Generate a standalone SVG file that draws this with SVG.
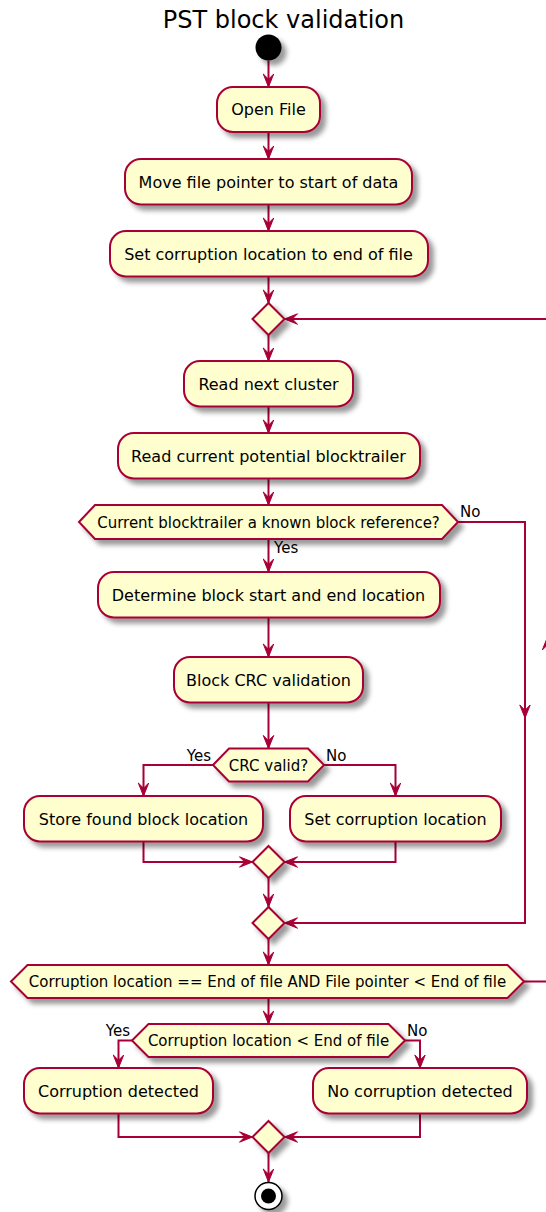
<svg xmlns="http://www.w3.org/2000/svg" width="546" height="1212" viewBox="0 0 546 1212">
<defs>
<filter id="sh" x="-0.5" y="-0.5" width="2" height="2">
<feGaussianBlur stdDeviation="2.6" result="b"/>
<feColorMatrix in="b" type="matrix" values="0 0 0 0 0 0 0 0 0 0 0 0 0 0 0 0 0 0 .4 0" result="b2"/>
<feOffset in="b2" dx="5.2" dy="5.2" result="b3"/>
<feBlend in="SourceGraphic" in2="b3" mode="normal"/>
</filter>
<marker id="ah" markerUnits="userSpaceOnUse" viewBox="-14 -6 15 12" markerWidth="15" markerHeight="12" refX="0" refY="0" orient="auto" overflow="visible">
<path d="M0,0 L-13,-5.2 L-7.8,0 L-13,5.2 Z" fill="#A80036" stroke="#A80036" stroke-width="1" stroke-linejoin="miter"/>
</marker>
<style>
.box{fill:#FEFECE;stroke:#A80036;stroke-width:2;filter:url(#sh)}
.ln{fill:none;stroke:#A80036;stroke-width:2;marker-end:url(#ah)}
.pl{fill:none;stroke:#A80036;stroke-width:2}
.t{font-family:"DejaVu Sans","Liberation Sans",sans-serif;font-size:16px;fill:#000;text-anchor:middle}
.d{font-family:"DejaVu Sans","Liberation Sans",sans-serif;font-size:15px;fill:#000;text-anchor:middle}
.lb{font-family:"DejaVu Sans","Liberation Sans",sans-serif;font-size:15px;fill:#000}
</style>
</defs>
<rect width="546" height="1212" fill="#FFFFFF"/>
<text x="283.5" y="28" style="font-family:'DejaVu Sans','Liberation Sans',sans-serif;font-size:24px;fill:#000" text-anchor="middle">PST block validation</text>

<g id="connectors">
<path class="ln" d="M268.5,60.5 V87"/>
<path class="ln" d="M268.5,132 V159"/>
<path class="ln" d="M268.5,204.5 V231"/>
<path class="ln" d="M268.5,276.5 V303"/>
<path class="ln" d="M268.5,335 V361"/>
<path class="ln" d="M268.5,406.5 V433"/>
<path class="ln" d="M268.5,478.5 V505"/>
<path class="ln" d="M268.5,539 V572"/>
<path class="ln" d="M268.5,617.5 V657"/>
<path class="ln" d="M268.5,702.5 V748.5"/>
<path class="ln" d="M213,765 H143.5 V796"/>
<path class="ln" d="M324,765 H395.5 V796"/>
<path class="ln" d="M143.5,841.5 V862 H252.5"/>
<path class="ln" d="M395.5,841.5 V862 H284.5"/>
<path class="ln" d="M268.5,878 V907"/>
<path class="ln" d="M458,522 H525 V718"/>
<path class="ln" d="M525,718 V923 H284.5"/>
<path class="ln" d="M268.5,939 V965"/>
<path class="ln" d="M524,981.5 H547.5 V637"/>
<path class="ln" d="M547.5,637 V319 H284.5"/>
<path class="ln" d="M268.5,998 V1024"/>
<path class="ln" d="M132,1040.5 H118.5 V1068"/>
<path class="ln" d="M405,1040.5 H420 V1068"/>
<path class="ln" d="M118.5,1113.5 V1137 H252.5"/>
<path class="ln" d="M420,1113.5 V1137 H284.5"/>
<path class="ln" d="M268.5,1153 V1182"/>
</g>

<g id="start"><circle cx="268.5" cy="47.5" r="13" fill="#000" filter="url(#sh)"/></g>

<g id="open-file"><rect class="box" x="217" y="87" width="103" height="45" rx="16"/><text class="t" x="268.5" y="115">Open File</text></g>
<g id="move-pointer"><rect class="box" x="125" y="159" width="287" height="45.5" rx="16"/><text class="t" x="268.5" y="187.5">Move file pointer to start of data</text></g>
<g id="set-eof"><rect class="box" x="110" y="231" width="318" height="45.5" rx="16"/><text class="t" x="268.5" y="259.5">Set corruption location to end of file</text></g>
<g id="loop-merge"><polygon class="box" points="252.5,319 268.5,303 284.5,319 268.5,335"/></g>
<g id="read-cluster"><rect class="box" x="184" y="361" width="169" height="45.5" rx="16"/><text class="t" x="268.5" y="389.5">Read next cluster</text></g>
<g id="read-trailer"><rect class="box" x="118" y="433" width="302" height="45.5" rx="16"/><text class="t" x="268.5" y="461.5">Read current potential blocktrailer</text></g>
<g id="known-ref"><polygon class="box" points="79,522 95,505 442,505 458,522 442,539 95,539"/><text class="d" x="268.5" y="527.5">Current blocktrailer a known block reference?</text>
<text class="lb" x="460" y="517">No</text><text class="lb" x="274" y="553">Yes</text></g>
<g id="determine"><rect class="box" x="98" y="572" width="342" height="45.5" rx="16"/><text class="t" x="268.5" y="600.5">Determine block start and end location</text></g>
<g id="crc-validation"><rect class="box" x="174" y="657" width="189" height="45.5" rx="16"/><text class="t" x="268.5" y="685.5">Block CRC validation</text></g>
<g id="crc-valid"><polygon class="box" points="213,765 229,748.5 308,748.5 324,765 308,781.5 229,781.5"/><text class="d" x="268.5" y="770.5">CRC valid?</text>
<text class="lb" x="211" y="761" text-anchor="end">Yes</text><text class="lb" x="326" y="761">No</text></g>
<g id="store-found"><rect class="box" x="24" y="796" width="239" height="45.5" rx="16"/><text class="t" x="143.5" y="824.5">Store found block location</text></g>
<g id="set-corruption"><rect class="box" x="290" y="796" width="211" height="45.5" rx="16"/><text class="t" x="395.5" y="824.5">Set corruption location</text></g>
<g id="crc-merge"><polygon class="box" points="252.5,862 268.5,846 284.5,862 268.5,878"/></g>
<g id="ref-merge"><polygon class="box" points="252.5,923 268.5,907 284.5,923 268.5,939"/></g>
<g id="while-cond"><polygon class="box" points="11,981.5 27.5,965 507.5,965 524,981.5 507.5,998 27.5,998"/><text class="d" x="267.5" y="987">Corruption location == End of file AND File pointer &lt; End of file</text></g>
<g id="eof-check"><polygon class="box" points="132,1040.5 148.5,1024 388.5,1024 405,1040.5 388.5,1057 148.5,1057"/><text class="d" x="268.5" y="1046">Corruption location &lt; End of file</text>
<text class="lb" x="130" y="1036" text-anchor="end">Yes</text><text class="lb" x="407" y="1036">No</text></g>
<g id="corruption-detected"><rect class="box" x="24" y="1068" width="189" height="45.5" rx="16"/><text class="t" x="118.5" y="1096.5">Corruption detected</text></g>
<g id="no-corruption"><rect class="box" x="313" y="1068" width="214" height="45.5" rx="16"/><text class="t" x="420" y="1096.5">No corruption detected</text></g>
<g id="end-merge"><polygon class="box" points="252.5,1137 268.5,1121 284.5,1137 268.5,1153"/></g>
<g id="end"><circle cx="268.5" cy="1196" r="13.5" fill="#FFFFFF" stroke="#000" stroke-width="1.5" filter="url(#sh)"/><circle cx="268.5" cy="1196" r="7.5" fill="#000"/></g>
</svg>
